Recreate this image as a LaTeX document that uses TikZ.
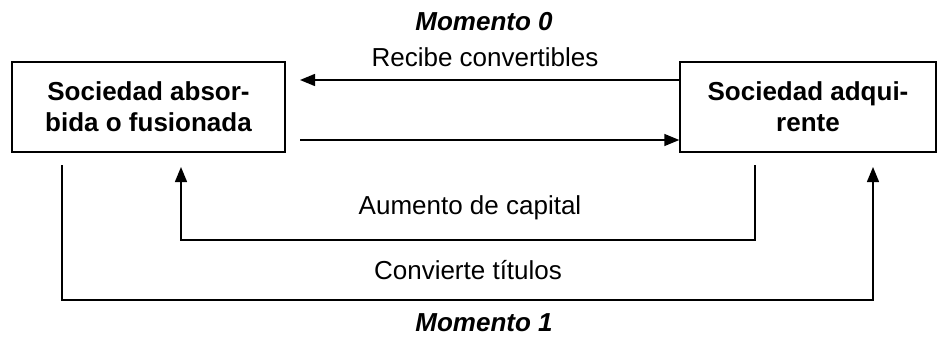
\documentclass[tikz,border=0pt]{standalone}
\usepackage{fontspec}
\setmainfont{Liberation Sans}
\usetikzlibrary{arrows.meta}
\begin{document}
\begin{tikzpicture}[x=1pt,y=-1pt,
  box/.style={draw,line width=1.4pt,minimum width=#1,minimum height=90pt,inner sep=0pt,align=center,font=\fontsize{26}{31}\selectfont\bfseries},
  lbl/.style={font=\fontsize{26}{30}\selectfont,inner sep=0pt},
  ttl/.style={font=\fontsize{26}{30}\selectfont\bfseries\itshape,inner sep=0pt},
  conn/.style={line width=1.4pt},
  arr/.style={conn,-{Triangle[length=15pt,width=12pt]}}]
\useasboundingbox (0,0) rectangle (938,343);
\node[box=273pt] (L) at (148.5,107) {Sociedad absor-\\bida o fusionada};
\node[box=256pt] (R) at (808,107) {Sociedad adqui-\\rente};
\node[ttl] (m0) at (484,22) {Momento 0};
\node[lbl] (rc) at (485,57) {Recibe convertibles};
\node[lbl] (ac) at (470,208) {Aumento de capital};
\node[lbl] (ct) at (468,270) {Convierte títulos};
\node[ttl] (m1) at (484,323) {Momento 1};
\coordinate (t1) at (300,80);
\coordinate (t2) at (300,140);
\draw[arr] (R.west |- t1) -- (t1);
\draw[arr] (t2) -- (R.west |- t2);
\coordinate (a1) at (755,165);
\coordinate (a2) at (181,167);
\draw[arr] (a1) -- (755,240) -- (181,240) -- (a2);
\coordinate (b1) at (62,165);
\coordinate (b2) at (873,167);
\draw[arr] (b1) -- (62,300) -- (873,300) -- (b2);
\end{tikzpicture}
\end{document}
